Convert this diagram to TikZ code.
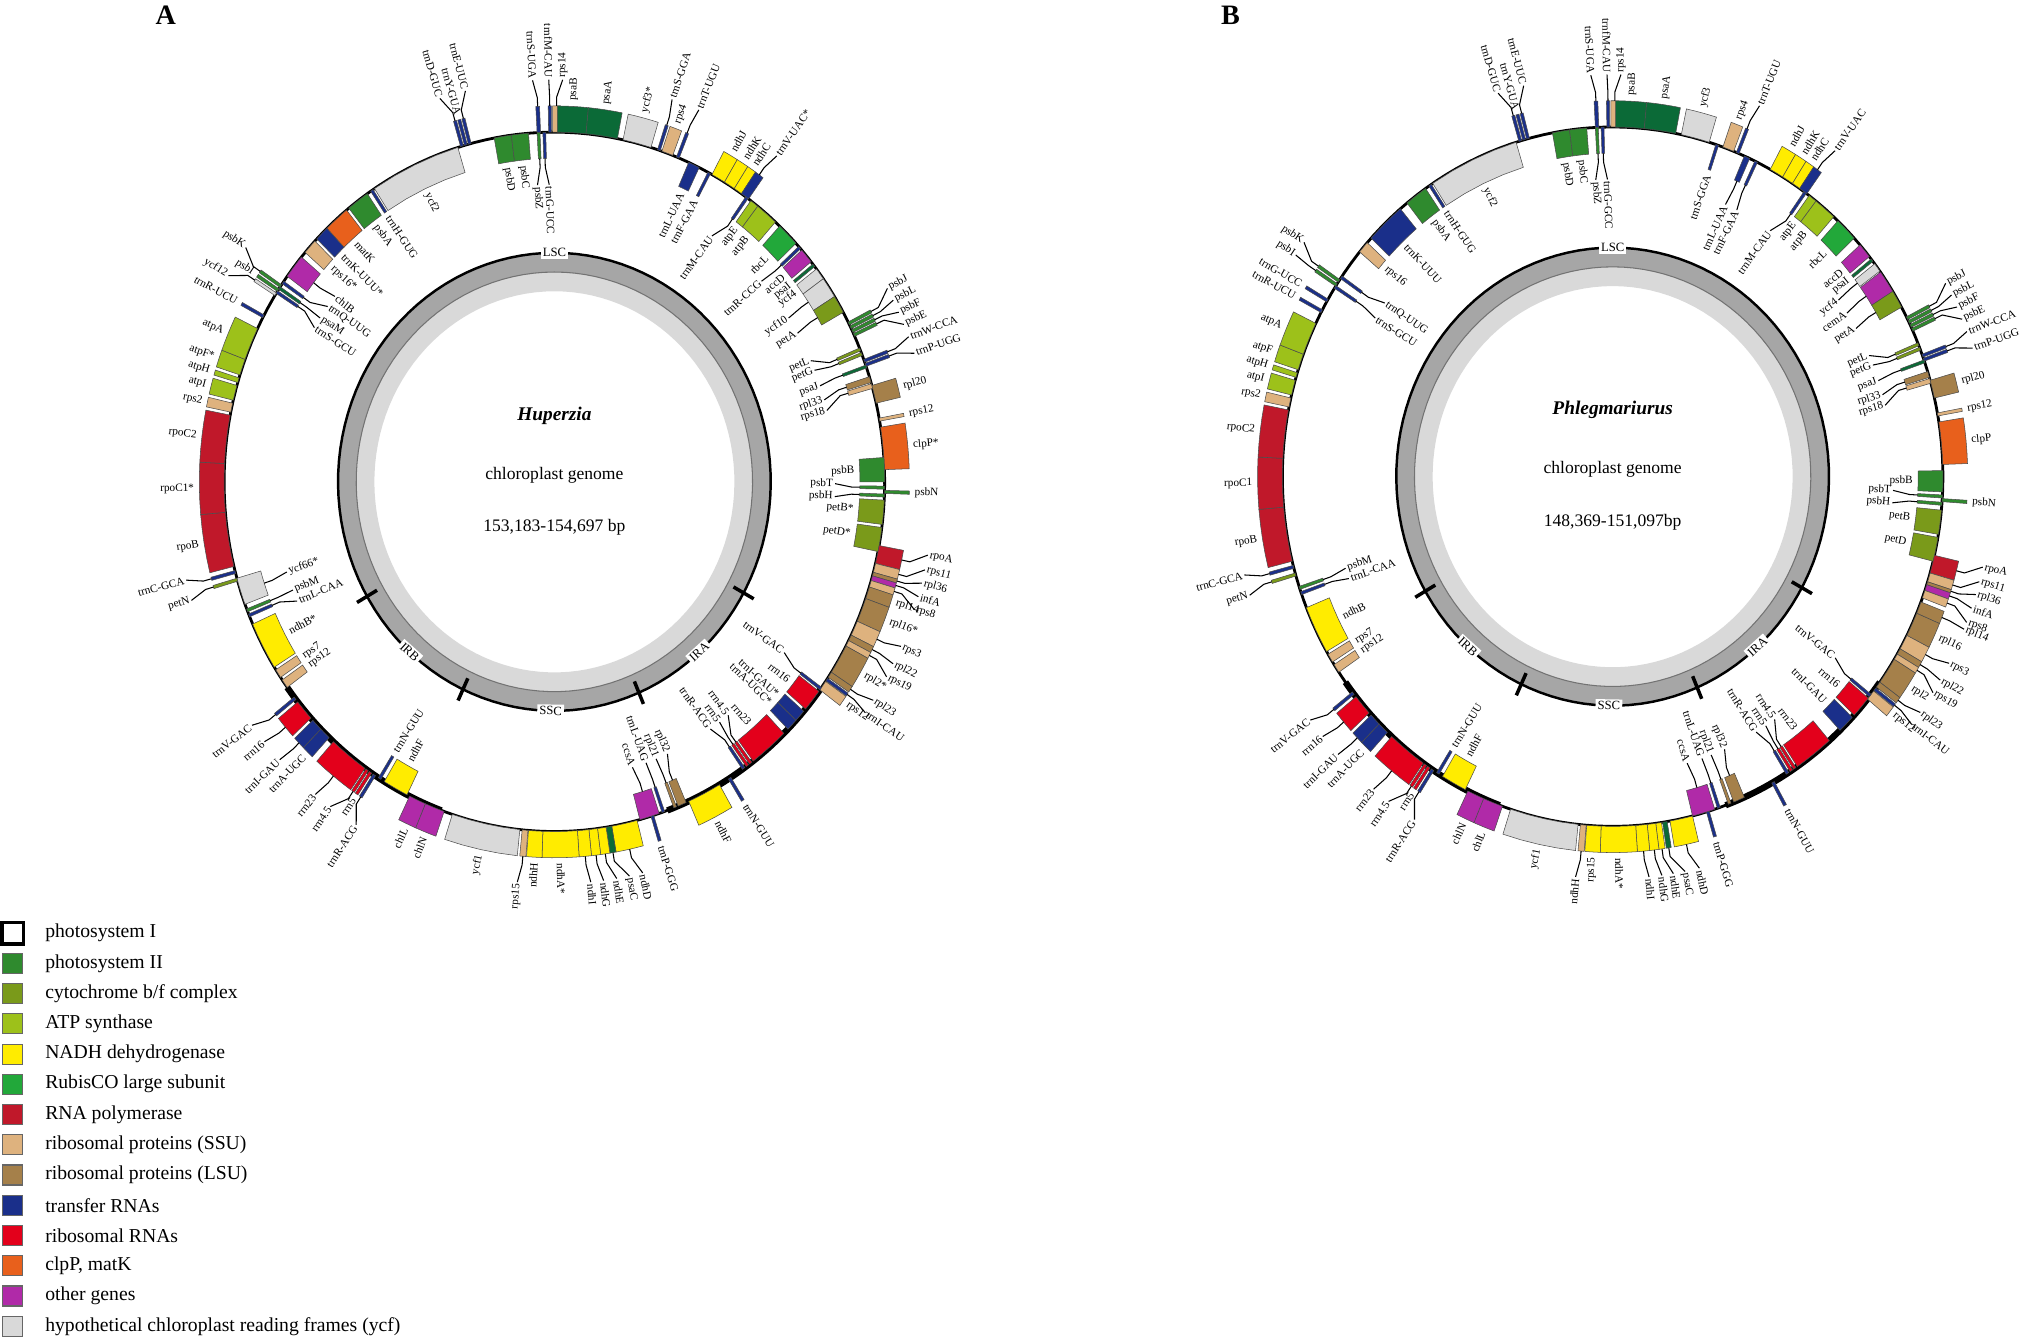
\documentclass[tikz,border=0pt]{standalone}
\usepackage{fontspec}
\setmainfont{Liberation Serif}
\usepackage{tikz}
\usetikzlibrary{positioning}

\definecolor{psi}{RGB}{11,106,55}
\definecolor{ps2}{RGB}{47,138,46}
\definecolor{cyt}{RGB}{122,154,26}
\definecolor{atp}{RGB}{157,193,26}
\definecolor{ndh}{RGB}{255,236,0}
\definecolor{rbc}{RGB}{34,168,58}
\definecolor{rpo}{RGB}{192,24,42}
\definecolor{ssu}{RGB}{222,178,126}
\definecolor{lsu}{RGB}{165,128,74}
\definecolor{trna}{RGB}{26,47,138}
\definecolor{rrna}{RGB}{227,0,27}
\definecolor{clp}{RGB}{232,96,28}
\definecolor{other}{RGB}{176,42,168}
\definecolor{ycf}{RGB}{217,217,217}

\newcounter{glab}
% one gene: start, end, colour, side (1 out, -1 in), label shift, label
\newcommand\gene[6]{%
  \fill[#3,draw=black!70,line width=.15pt] plot[domain=#1:#2,samples=5] ({sin(\x)},{cos(\x)})
    -- plot[domain=#2:#1,samples=5] ({(1+#4*.075)*sin(\x)},{(1+#4*.075)*cos(\x)}) -- cycle;
  \pgfmathsetmacro\gm{mod((#1+#2)/2+720,360)}%
  \pgfmathsetmacro\gl{\gm+#5}%
  \pgfmathsetmacro\grot{\gm<180 ? 90-\gm : 270-\gm}%
  \pgfmathtruncatemacro\gside{(\gm<180)*(#4>0)+(\gm>=180)*(#4<0)}%
  \ifnum\gside=1 \def\ganc{west}\else\def\ganc{east}\fi
  \stepcounter{glab}%
  \ifdim #5pt=0pt
    \pgfmathsetmacro\gr{1+#4*.085}%
  \else
    \pgfmathsetmacro\gr{1+#4*.15}%
    \draw[line width=.3pt] ({(1+#4*.075)*sin(\gm)},{(1+#4*.075)*cos(\gm)})
      -- ({(1+#4*.1)*sin(\gm)},{(1+#4*.1)*cos(\gm)}) -- ({\gr*sin(\gl)},{\gr*cos(\gl)});
  \fi
  \node[glabel,rotate=\grot,anchor=\ganc] (gl\arabic{glab}) at ({\gr*sin(\gl)},{\gr*cos(\gl)}) {#6};}

% inner GC ring, quadrants and the genome circle
\newcommand\ringbase{%
  \fill[black!15,even odd rule] plot[domain=0:360,samples=120] ({.6*sin(\x)},{.6*cos(\x)}) -- cycle
    plot[domain=0:360,samples=120] ({.545*sin(\x)},{.545*cos(\x)}) -- cycle;
  \fill[black!35,even odd rule] plot[domain=0:360,samples=120] ({.655*sin(\x)},{.655*cos(\x)}) -- cycle
    plot[domain=0:360,samples=120] ({.6*sin(\x)},{.6*cos(\x)}) -- cycle;
  \draw[black!55,line width=.3pt] plot[domain=0:360,samples=120] ({.6*sin(\x)},{.6*cos(\x)}) -- cycle;
  \draw[line width=.7pt] plot[domain=0:360,samples=120] ({.655*sin(\x)},{.655*cos(\x)}) -- cycle;
  \foreach \t in {119,157,205,240}
    \draw[line width=1pt] ({.62*sin(\t)},{.62*cos(\t)}) -- ({.69*sin(\t)},{.69*cos(\t)});
  \foreach \t/\q in {0/LSC,138/IRA,181/SSC,222/IRB}
    \node[quad,rotate={\t<90 ? -\t : 180-\t}] (q\q) at ({.655*sin(\t)},{.655*cos(\t)}) {\q};
  \draw[line width=.8pt] plot[domain=0:360,samples=180] ({sin(\x)},{cos(\x)}) -- cycle;
  \draw[line width=1.8pt] plot[domain=126:160,samples=30] ({sin(\x)},{cos(\x)});
  \draw[line width=1.8pt] plot[domain=200:234,samples=30] ({sin(\x)},{cos(\x)});}

\begin{document}
\begin{tikzpicture}[x=0.12953mm,y=-0.12953mm,
  glabel/.style={font=\fontsize{3.2}{3.4}\selectfont,inner sep=.4pt},
  quad/.style={font=\fontsize{3.6}{4}\selectfont,fill=white,inner sep=.6pt},
  title/.style={font=\bfseries\fontsize{8}{9}\selectfont},
  legbox/.style={draw=black!60,line width=.3pt,minimum size=2mm,inner sep=0pt},
  legtext/.style={font=\fontsize{5.6}{6}\selectfont,inner sep=0pt,anchor=west}]
\useasboundingbox (0,0) rectangle (1568,1034);

\node[title] (tA) at (128,12) {A};
\node[title] (tB) at (950,12) {B};

% map A
\begin{scope}[shift={(428,372)},x=33.03mm,y=34.97mm]
  \ringbase
  \foreach \a/\b/\c/\s/\o/\l in {
    357/357.6/trna/1/-.6/trnS-UGA, 359/359.5/trna/1/-.1/trnfM-CAU, 359.7/361/ssu/1/.9/rps14,
    0.5/5.5/psi/1/0/psaB, 5.5/11/psi/1/0/psaA, 12/17/ycf/1/0/ycf3*, 18.2/18.7/trna/1/-.4/trnS-GGA,
    19/21/ssu/1/0/rps4, 21.7/22.2/trna/1/.4/trnT-UGU, 24/26/trna/-1/0/trnL-UAA,
    27.7/28.2/trna/-1/0/trnF-GAA, 28.5/31/ndh/1/0/ndhJ, 31/33/ndh/1/0/ndhK, 33/34.5/ndh/1/0/ndhC,
    34.5/36/trna/1/.6/trnV-UAC*, 35.4/35.9/trna/-1/-1.5/trnM-CAU, 36.5/38/atp/-1/0/atpE,
    38/42/atp/-1/0/atpB, 43/47/rbc/-1/0/rbcL, 47.7/48.2/trna/-1/-.4/trnR-CCG, 48.5/51/other/-1/0/accD,
    51.5/52/psi/-1/0/psaI, 52.5/54.5/ycf/-1/0/ycf4, 54.5/58/ycf/-1/.3/ycf10, 58/61/cyt/-1/.5/petA,
    62.8/63.3/ps2/1/-1.8/psbJ, 63.5/64/ps2/1/-.6/psbL, 64.2/64.7/ps2/1/.6/psbF, 64.9/65.4/ps2/1/1.8/psbE,
    69.5/70/trna/1/-.9/trnW-CCA, 70.2/70.7/trna/1/.9/trnP-UGG, 67.5/68/cyt/-1/-1.8/petL,
    68.3/68.8/cyt/-1/-.6/petG, 70.5/71/psi/-1/.4/psaJ, 72.5/73.5/lsu/-1/1/rpl33, 73.7/74.5/ssu/-1/2/rps18,
    74/77/lsu/1/0/rpl20, 79.5/80/ssu/1/0/rps12, 81/88/clp/1/0/clpP*, 86/90/ps2/-1/0/psbB,
    90.7/91.2/ps2/-1/-.6/psbT, 92/92.5/ps2/-1/.6/psbH, 91.4/91.9/ps2/1/0/psbN, 93/97/cyt/-1/0/petB*,
    97.5/101.5/cyt/-1/0/petD*, 100.5/103.5/rpo/1/-1.5/rpoA, 103.5/105/ssu/1/-1.6/rps11,
    105/105.6/lsu/1/-.7/rpl36, 105.6/106.4/other/1/.6/infA, 106.4/107.5/ssu/1/1.6/rps8,
    107.5/109.5/lsu/1/0/rpl14, 109.5/113.5/lsu/1/0/rpl16*, 113.5/116/ssu/1/-.6/rps3,
    116/117/lsu/1/.4/rpl22, 117/118/ssu/1/1.5/rps19, 118/123/lsu/1/0/rpl2*, 123/124/lsu/1/-.6/rpl23,
    124.2/124.7/trna/1/.6/trnI-CAU, 124.8/126.5/ssu/1/0/rps12, 126/126.5/trna/-1/-1.2/trnV-GAC,
    126.8/130.5/rrna/-1/0/rrn16, 131/133/trna/-1/0/trnI-GAU*, 133/135/trna/-1/0/trnA-UGC*,
    136/143/rrna/-1/0/rrn23, 143.3/143.8/rrna/-1/-1.8/rrn4.5, 144/144.5/rrna/-1/-.3/rrn5,
    144.8/145.3/trna/-1/1.2/trnR-ACG, 147.7/148.2/trna/1/0/trnN-GUU, 150/156/ndh/1/0/ndhF,
    156.5/158/lsu/-1/-1/rpl32, 158.3/158.8/lsu/-1/.2/rpl21, 162.5/163/trna/1/0/trnP-GGG,
    160.5/161/trna/-1/.2/trnL-UAG, 161.5/165/other/-1/.6/ccsA, 165.5/170/ndh/1/-1.2/ndhD,
    170/171/psi/1/-1.9/psaC, 171/172.5/ndh/1/-1.2/ndhE, 172.5/174/ndh/1/-.7/ndhG, 174/176/ndh/1/-.5/ndhI,
    176/182/ndh/1/0/ndhA*, 182/184.5/ndh/1/0/ndhH, 184.6/185.6/ssu/1/.5/rps15, 186/198/ycf/1/0/ycf1,
    199.5/203/other/1/0/chlN, 203/206/other/1/0/chlL, 206.5/211/ndh/-1/0/ndhF,
    211.7/212.2/trna/-1/0/trnN-GUU, 212.8/213.3/trna/1/-1.6/trnR-ACG, 213.6/214.1/rrna/1/0/rrn5,
    214.3/214.8/rrna/1/1.6/rrn4.5, 215/222/rrna/1/.5/rrn23, 223/225/trna/1/0/trnA-UGC,
    225/227/trna/1/.3/trnI-GAU, 227.5/231/rrna/1/.5/rrn16, 231.5/232/trna/1/1/trnV-GAC,
    234/235.5/ssu/-1/0/rps12, 236/237.5/ssu/-1/0/rps7, 238/246/ndh/-1/0/ndhB*,
    247.3/247.8/trna/-1/-1.2/trnL-CAA, 248.2/248.7/ps2/-1/.2/psbM, 249.5/254/ycf/-1/.6/ycf66*,
    253.5/254/cyt/1/-.9/petN, 254.8/255.3/trna/1/.8/trnC-GCA, 256/265/rpo/1/0/rpoB,
    265/273/rpo/1/0/rpoC1*, 273/281/rpo/1/0/rpoC2, 281.5/283/ssu/1/0/rps2, 283.5/286/atp/1/0/atpI,
    286.5/287.3/atp/1/0/atpH, 287.8/290.5/atp/1/0/atpF*, 290.5/296/atp/1/0/atpA,
    298/298.5/trna/1/0/trnR-UCU, 302.2/302.7/ycf/1/-1.6/ycf12, 303/303.5/ps2/1/0/psbI,
    303.8/304.3/ps2/1/1.6/psbK, 302.6/303.1/trna/-1/-1.6/trnS-GCU, 303.4/303.9/psi/-1/-.2/psaM,
    304.5/305/trna/-1/1.4/trnQ-UUG, 306/310/other/-1/.6/chlB, 311/313.5/ssu/-1/0/rps16*,
    314/316.5/trna/-1/0/trnK-UUU*, 316.5/321/clp/-1/0/matK, 321.5/325.5/ps2/-1/0/psbA,
    326.2/326.7/trna/-1/0/trnH-GUG, 327/343/ycf/-1/0/ycf2, 343.5/344/trna/1/-1.3/trnD-GUC,
    344.2/344.7/trna/1/0/trnY-GUA, 344.9/345.4/trna/1/1.3/trnE-UUC, 349.5/352.5/ps2/-1/0/psbD,
    352.5/355.5/ps2/-1/0/psbC, 357/357.5/ps2/-1/-.7/psbZ, 358/358.5/trna/-1/.7/trnG-UCC}
    {\gene{\a}{\b}{\c}{\s}{\o}{\l}}
  \node[font=\bfseries\itshape\fontsize{5.5}{6}\selectfont] (nA) at (0,.19) {Huperzia};
  \node[font=\fontsize{5}{6}\selectfont] (cA) at (0,.02) {chloroplast genome};
  \node[font=\fontsize{5}{6}\selectfont] (sA) at (0,-.13) {153,183-154,697 bp};
\end{scope}

% map B
\begin{scope}[shift={(1245,368)},x=33.03mm,y=34.97mm]
  \ringbase
  \foreach \a/\b/\c/\s/\o/\l in {
    357/357.6/trna/1/-.6/trnS-UGA, 359/359.5/trna/1/-.1/trnfM-CAU, 359.7/361/ssu/1/.9/rps14,
    0.5/5.5/psi/1/0/psaB, 5.5/11/psi/1/0/psaA, 12/17/ycf/1/0/ycf3, 18.2/18.7/trna/-1/0/trnS-GGA,
    19.5/21.5/ssu/1/0/rps4, 22/22.5/trna/1/.5/trnT-UGU, 23.5/24.5/trna/-1/-.3/trnL-UAA,
    25.5/26/trna/-1/.5/trnF-GAA, 28.5/31/ndh/1/0/ndhJ, 31/33/ndh/1/0/ndhK, 33/34.5/ndh/1/0/ndhC,
    34.5/36/trna/1/.6/trnV-UAC, 35.4/35.9/trna/-1/-1.5/trnM-CAU, 36.5/38/atp/-1/0/atpE,
    38/42/atp/-1/0/atpB, 43/47/rbc/-1/0/rbcL, 48.5/51/other/-1/0/accD, 51.5/52/psi/-1/0/psaI,
    52.5/54/ycf/-1/.3/ycf4, 54.2/58/other/-1/.5/cemA, 58/61/cyt/-1/.6/petA,
    62.8/63.3/ps2/1/-1.8/psbJ, 63.5/64/ps2/1/-.6/psbL, 64.2/64.7/ps2/1/.6/psbF, 64.9/65.4/ps2/1/1.8/psbE,
    69.5/70/trna/1/-.9/trnW-CCA, 70.2/70.7/trna/1/.9/trnP-UGG, 67.5/68/cyt/-1/-1.8/petL,
    68.3/68.8/cyt/-1/-.6/petG, 70.5/71/psi/-1/.4/psaJ, 72.5/73.5/lsu/-1/1/rpl33, 73.7/74.5/ssu/-1/2/rps18,
    74/77/lsu/1/0/rpl20, 79.5/80/ssu/1/0/rps12, 81/88/clp/1/0/clpP, 89/92.5/ps2/-1/0/psbB,
    93/93.5/ps2/-1/-.6/psbT, 94.2/94.7/ps2/-1/.6/psbH, 93.6/94.1/ps2/1/0/psbN, 95.5/99.5/cyt/-1/0/petB,
    100/104/cyt/-1/0/petD, 103/106/rpo/1/-1.5/rpoA, 106/107.5/ssu/1/-1.6/rps11,
    107.5/108/lsu/1/-.7/rpl36, 108/109/other/1/.6/infA, 109/110.3/ssu/1/1.6/rps8,
    111/113/lsu/1/.3/rpl14, 113/117/lsu/1/0/rpl16, 117/119.5/ssu/1/-.6/rps3,
    119.5/120.5/lsu/1/.4/rpl22, 120.5/121.5/ssu/1/1.5/rps19, 121.5/126/lsu/1/0/rpl2, 126/127/lsu/1/-.6/rpl23,
    127.2/127.7/trna/1/.6/trnI-CAU, 127.8/129.5/ssu/1/0/rps12, 128.5/129/trna/-1/-1.2/trnV-GAC,
    129.3/133/rrna/-1/0/rrn16, 133.5/136.5/trna/-1/0/trnI-GAU,
    139/146/rrna/-1/0/rrn23, 146.3/146.8/rrna/-1/-1.8/rrn4.5, 147/147.5/rrna/-1/-.3/rrn5,
    147.8/148.3/trna/-1/1.2/trnR-ACG, 150.7/151.2/trna/1/0/trnN-GUU,
    156.5/158.5/lsu/-1/-1/rpl32, 159/159.5/lsu/-1/.2/rpl21, 163/163.5/trna/1/0/trnP-GGG,
    161/161.5/trna/-1/.2/trnL-UAG, 162/166/other/-1/.6/ccsA, 166/170/ndh/1/-1.2/ndhD,
    170.5/171.3/psi/1/-1.9/psaC, 171.5/172.5/ndh/1/-1.2/ndhE, 172.5/174/ndh/1/-.7/ndhG,
    174/176/ndh/1/-.5/ndhI, 176/182/ndh/1/0/ndhA*, 182/184.5/ndh/1/0/rps15,
    184.6/185.6/ssu/1/.5/ndhH, 186/198/ycf/1/0/ycf1,
    199.5/203/other/1/0/chlL, 203/206/other/1/0/chlN, 206.5/211/ndh/-1/0/ndhF,
    211.7/212.2/trna/-1/0/trnN-GUU, 212.8/213.3/trna/1/-1.6/trnR-ACG, 213.6/214.1/rrna/1/0/rrn5,
    214.3/214.8/rrna/1/1.6/rrn4.5, 215/222/rrna/1/.5/rrn23, 223/225/trna/1/0/trnA-UGC,
    225/227/trna/1/.3/trnI-GAU, 227.5/231/rrna/1/.5/rrn16, 231.5/232/trna/1/1/trnV-GAC,
    236/237.5/ssu/-1/0/rps12, 238/239.5/ssu/-1/0/rps7, 240/248/ndh/-1/0/ndhB,
    250.3/250.8/trna/-1/-.6/trnL-CAA, 251.2/251.7/ps2/-1/.6/psbM,
    253.5/254/cyt/1/-.9/petN, 254.8/255.3/trna/1/.8/trnC-GCA, 256/265/rpo/1/0/rpoB,
    265/273/rpo/1/0/rpoC1, 273/281/rpo/1/0/rpoC2, 281.5/283/ssu/1/0/rps2, 283.5/286/atp/1/0/atpI,
    286.5/287.3/atp/1/0/atpH, 287.8/290.5/atp/1/0/atpF, 290.5/296/atp/1/0/atpA,
    298/298.5/trna/1/0/trnR-UCU, 300/300.5/trna/1/0/trnG-UCC, 303/303.5/ps2/1/.2/psbI,
    303.8/304.3/ps2/1/1.6/psbK, 302.6/303.1/trna/-1/-.6/trnS-GCU,
    304.5/305/trna/-1/1/trnQ-UUG, 310/312/ssu/-1/0/rps16,
    313/320/trna/-1/0/trnK-UUU, 321.5/325.5/ps2/-1/0/psbA,
    326.2/326.7/trna/-1/0/trnH-GUG, 327/343/ycf/-1/0/ycf2, 343.5/344/trna/1/-1.3/trnD-GUC,
    344.2/344.7/trna/1/0/trnY-GUA, 344.9/345.4/trna/1/1.3/trnE-UUC, 349.5/352.5/ps2/-1/0/psbD,
    352.5/355.5/ps2/-1/0/psbC, 357/357.5/ps2/-1/-.7/psbZ, 358/358.5/trna/-1/.7/trnG-GCC}
    {\gene{\a}{\b}{\c}{\s}{\o}{\l}}
  \node[font=\bfseries\itshape\fontsize{5.5}{6}\selectfont] (nB) at (0,.19) {Phlegmariurus};
  \node[font=\fontsize{5}{6}\selectfont] (cB) at (0,.02) {chloroplast genome};
  \node[font=\fontsize{5}{6}\selectfont] (sB) at (0,-.13) {148,369-151,097bp};
\end{scope}

% legend
\foreach \c/\t [count=\i] in {white/{photosystem I}, ps2/{photosystem II},
    cyt/{cytochrome b/f complex}, atp/{ATP synthase}, ndh/{NADH dehydrogenase},
    rbc/{RubisCO large subunit}, rpo/{RNA polymerase}, ssu/{ribosomal proteins (SSU)},
    lsu/{ribosomal proteins (LSU)}, trna/{transfer RNAs}, rrna/{ribosomal RNAs},
    clp/{clpP, matK}, other/{other genes}, ycf/{hypothetical chloroplast reading frames (ycf)}}
  {\node[legbox,fill=\c] (lb\i) at (10,697+23.35*\i) {};
   \node[legtext,right=6pt of lb\i] (lt\i) {\t};}
\draw[line width=1.1pt] (lb1.south west) rectangle (lb1.north east);
\end{tikzpicture}
\end{document}
